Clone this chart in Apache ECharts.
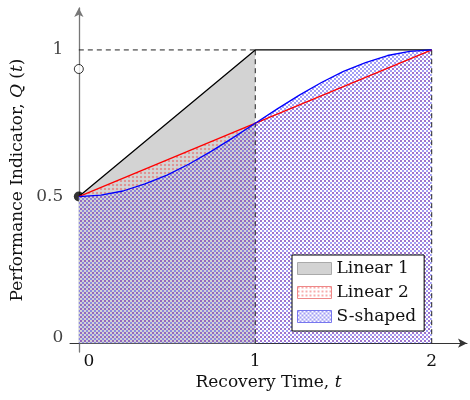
<!DOCTYPE html>
<html>
<head>
<meta charset="utf-8">
<script src="https://cdn.jsdelivr.net/npm/echarts@6/dist/echarts.min.js"></script>
<style>
  html, body { margin: 0; padding: 0; background: #fff; }
  #chart { width: 470px; height: 400px; }
</style>
</head>
<body>
<div id="chart"></div>
<script>
// data
const linear1X = [0, 1, 2];
const linear1Y = [0.5, 1, 1];
const linear2X = [0, 2];
const linear2Y = [0.5, 1];
const sShapedX = [0, 0.125, 0.25, 0.375, 0.5, 0.625, 0.75, 0.875, 1,
                  1.125, 1.25, 1.375, 1.5, 1.625, 1.75, 1.875, 2];
const sShapedY = [0.5, 0.505, 0.519, 0.543, 0.573, 0.611, 0.654, 0.701, 0.75,
                  0.799, 0.846, 0.889, 0.927, 0.957, 0.981, 0.995, 1];
const xTicks = [0, 1, 2];
const yTicks = [0, 0.5, 1];
const openPoint = [0, 0.935];
const closedPoint = [0, 0.5];
const dashH = [[0, 1], [1, 1]];
const dashV1 = [[1, 0], [1, 1]];
const dashV2 = [[2, 0], [2, 1]];

const serif = 'DejaVu Serif';
const fs = 17;

function pts(xs, ys) {
  return xs.map((x, i) => [x, ys[i]]);
}

// small tiled patterns (tikz-like dots / crosshatch dots)
function makePattern(color, cells) {
  const c = document.createElement('canvas');
  c.width = 4; c.height = 4;
  const ctx = c.getContext('2d');
  ctx.fillStyle = color;
  cells.forEach(p => ctx.fillRect(p[0], p[1], 2, 2));
  return { image: c, repeat: 'repeat' };
}
const redDots = makePattern('rgba(235,70,70,0.45)', [[0, 0]]);
const blueHatch = makePattern('rgba(70,60,235,0.5)', [[0, 0], [2, 2]]);

const chartDom = document.getElementById('chart');
const chart = echarts.init(chartDom, null, { renderer: 'canvas' });

const dashStyle = { color: '#222', width: 1, type: [5, 4] };

// y tick labels sit next to the y axis line (x = 0)
const yTickData = yTicks.map(v => ({
  value: [0, v],
  label: { offset: v === 0 ? [0, -6] : [0, 0] }
}));

const option = {
  animation: false,
  grid: { left: 70, right: 3, top: 8, bottom: 48, containLabel: false, outerBoundsMode: 'none' },
  xAxis: {
    type: 'value',
    min: -0.05,
    max: 2.2,
    name: 'Recovery Time, {i|t}',
    nameLocation: 'middle',
    nameGap: 22,
    nameMoveOverlap: false,
    nameTextStyle: {
      fontFamily: serif, fontSize: fs, color: '#111',
      rich: { i: { fontFamily: serif, fontStyle: 'italic', fontSize: fs, color: '#111' } }
    },
    axisLine: {
      onZero: true,
      symbol: ['none', 'arrow'],
      symbolSize: [7, 9],
      lineStyle: { color: '#333', width: 1 }
    },
    axisTick: { show: false },
    splitLine: { show: false },
    axisLabel: {
      customValues: xTicks,
      margin: 1,
      fontFamily: serif, fontSize: fs, color: '#111',
      formatter: v => (v === 0 ? '{z|0}' : String(v)),
      rich: { z: { fontFamily: serif, fontSize: fs, color: '#111', padding: [0, 0, 0, 20] } }
    }
  },
  yAxis: {
    type: 'value',
    min: -0.03,
    max: 1.143,
    name: 'Performance Indicator, {i|Q} ({i|t})',
    nameLocation: 'middle',
    nameGap: 44,
    nameMoveOverlap: false,
    nameTextStyle: {
      fontFamily: serif, fontSize: fs, color: '#111',
      rich: { i: { fontFamily: serif, fontStyle: 'italic', fontSize: fs, color: '#111' } }
    },
    axisLine: {
      onZero: true,
      symbol: ['none', 'arrow'],
      symbolSize: [7, 9],
      lineStyle: { color: '#777', width: 1.3 }
    },
    axisTick: { show: false },
    splitLine: { show: false },
    axisLabel: { show: false }
  },
  legend: {
    orient: 'vertical',
    left: 292,
    top: 255,
    padding: [5, 8, 6, 5],
    itemGap: 7,
    itemWidth: 34,
    itemHeight: 12,
    backgroundColor: '#fff',
    borderColor: '#000',
    borderWidth: 1,
    borderRadius: 0,
    selectedMode: false,
    textStyle: { fontFamily: serif, fontSize: fs, color: '#111' },
    data: [
      { name: 'Linear 1', icon: 'rect', itemStyle: { color: '#d3d3d3', borderColor: '#aaa', borderWidth: 1 } },
      { name: 'Linear 2', icon: 'rect', itemStyle: { color: redDots, borderColor: '#e88', borderWidth: 1 } },
      { name: 'S-shaped', icon: 'rect', itemStyle: { color: blueHatch, borderColor: '#77e', borderWidth: 1 } }
    ]
  },
  series: [
    // fills (drawn first, in array order)
    {
      name: 'Linear 1', type: 'line', symbol: 'none',
      data: pts(linear1X.slice(0, 2), linear1Y.slice(0, 2)),
      lineStyle: { width: 0 },
      areaStyle: { color: '#d3d3d3', opacity: 1 }
    },
    {
      name: 'Linear 2', type: 'line', symbol: 'none',
      data: pts(linear2X, linear2Y),
      lineStyle: { width: 0 },
      areaStyle: { color: redDots, opacity: 1 }
    },
    {
      name: 'S-shaped', type: 'line', symbol: 'none',
      data: pts(sShapedX, sShapedY),
      lineStyle: { width: 0 },
      areaStyle: { color: blueHatch, opacity: 1 }
    },
    // dashed guides
    { type: 'line', symbol: 'none', data: dashH, lineStyle: dashStyle },
    { type: 'line', symbol: 'none', data: dashV1, lineStyle: dashStyle },
    { type: 'line', symbol: 'none', data: dashV2, lineStyle: dashStyle },
    // curves
    {
      type: 'line', symbol: 'none',
      data: pts(linear1X, linear1Y),
      lineStyle: { color: '#000', width: 1.3 }
    },
    {
      type: 'line', symbol: 'none',
      data: pts(linear2X, linear2Y),
      lineStyle: { color: '#f00', width: 1.3 }
    },
    {
      type: 'line', symbol: 'none',
      data: pts(sShapedX, sShapedY),
      lineStyle: { color: '#00f', width: 1.3 }
    },
    // end points
    {
      type: 'scatter', symbolSize: 10,
      data: [closedPoint],
      itemStyle: { color: '#000' }
    },
    {
      type: 'scatter', symbolSize: 9,
      data: [openPoint],
      itemStyle: { color: '#fff', borderColor: '#000', borderWidth: 1 }
    },
    // y tick labels
    {
      type: 'scatter', silent: true, symbolSize: 1,
      itemStyle: { color: 'rgba(0,0,0,0)' },
      data: yTickData,
      label: {
        show: true,
        position: 'left',
        distance: 15,
        fontFamily: serif, fontSize: fs, color: '#111',
        formatter: p => String(p.value[1])
      }
    }
  ]
};

chart.setOption(option);
</script>
</body>
</html>
